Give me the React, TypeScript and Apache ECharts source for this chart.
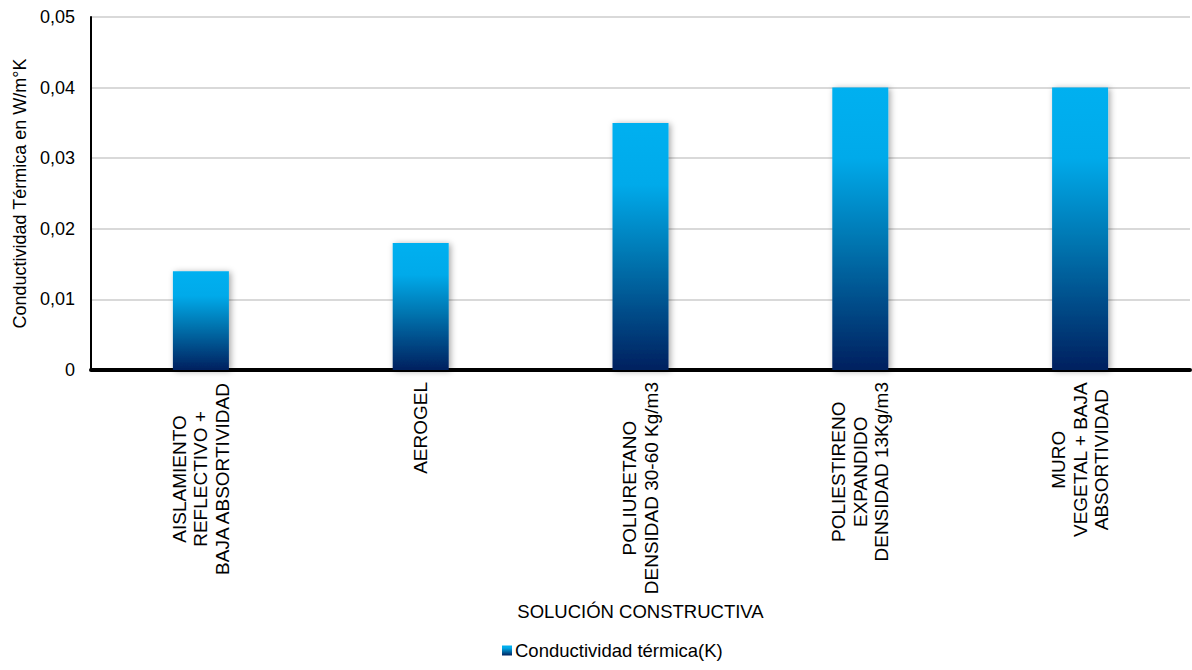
import React, { useEffect, useRef } from "react";
import * as echarts from "echarts";

const categories = [
  "AISLAMIENTO\nREFLECTIVO +\nBAJA ABSORTIVIDAD",
  "AEROGEL",
  "POLIURETANO\nDENSIDAD 30-60 Kg/m3",
  "POLIESTIRENO\nEXPANDIDO\nDENSIDAD 13Kg/m3",
  "MURO\nVEGETAL + BAJA\nABSORTIVIDAD",
];
const values = [0.014, 0.018, 0.035, 0.04, 0.04];
const seriesName = "Conductividad térmica(K)";
const yAxisName = "Conductividad Térmica en W/m°K";
const xAxisName = "SOLUCIÓN CONSTRUCTIVA";

const FONT = "Liberation Sans, Arial, sans-serif";

export default function App() {
  const ref = useRef<HTMLDivElement>(null);
  useEffect(() => {
    document.body.style.margin = "0";
    if (!ref.current) return;
    const chart = echarts.init(ref.current, undefined, { renderer: "svg" });
    const grad = new echarts.graphic.LinearGradient(0, 0, 0, 1, [
      { offset: 0, color: "#00B0F0" },
      { offset: 0.25, color: "#00AAEA" },
      { offset: 0.55, color: "#0075B0" },
      { offset: 1, color: "#00205F" },
    ]);
    chart.setOption({
      animation: false,
      backgroundColor: "#ffffff",
      textStyle: { fontFamily: FONT },
      grid: { left: 91, right: 2, top: 17, bottom: 300, containLabel: false },
      legend: {
        bottom: 5,
        left: 497,
        itemWidth: 10,
        itemHeight: 10,
        itemGap: 5,
        icon: "rect",
        textStyle: { fontSize: 18.5, color: "#000", fontFamily: FONT, padding: [0, 0, 0, -2] },
        data: [{ name: seriesName, itemStyle: { color: grad } }],
      },
      xAxis: {
        type: "category",
        data: categories,
        name: xAxisName,
        nameLocation: "middle",
        nameGap: 228,
        nameTextStyle: { fontSize: 18.5, color: "#000", fontFamily: FONT },
        axisLine: { show: true, lineStyle: { color: "#000", width: 4 } },
        axisTick: { show: false },
        axisLabel: {
          rotate: 90,
          interval: 0,
          margin: 12,
          fontSize: 19,
          color: "#000",
          fontFamily: FONT,
          lineHeight: 21.5,
          formatter: (v: string) =>
            v
              .split("\n")
              .map((l) => `{c|${l}}`)
              .join("\n"),
          rich: {
            c: { align: "center", fontSize: 19, color: "#000", fontFamily: FONT, lineHeight: 21.5 },
          },
        },
      },
      yAxis: {
        type: "value",
        min: 0,
        max: 0.05,
        interval: 0.01,
        name: yAxisName,
        nameLocation: "middle",
        nameGap: 62,
        nameTextStyle: { fontSize: 18, color: "#000", fontFamily: FONT },
        axisLine: { show: true, lineStyle: { color: "#000", width: 2 } },
        axisTick: { show: false },
        axisLabel: {
          fontSize: 18,
          color: "#000",
          fontFamily: FONT,
          margin: 16,
          formatter: (v: number) => (v === 0 ? "0" : v.toFixed(2).replace(".", ",")),
        },
        splitLine: { show: true, lineStyle: { color: "#d9d9d9", width: 2 } },
      },
      series: [
        {
          name: seriesName,
          type: "bar",
          data: values,
          barWidth: 56,
          itemStyle: {
            color: grad,
            shadowColor: "rgba(0,0,0,0.35)",
            shadowBlur: 6,
            shadowOffsetX: 2,
            shadowOffsetY: 1,
          },
        },
      ],
    });
    return () => chart.dispose();
  }, []);
  return <div ref={ref} style={{ width: 1192, height: 670 }} />;
}
